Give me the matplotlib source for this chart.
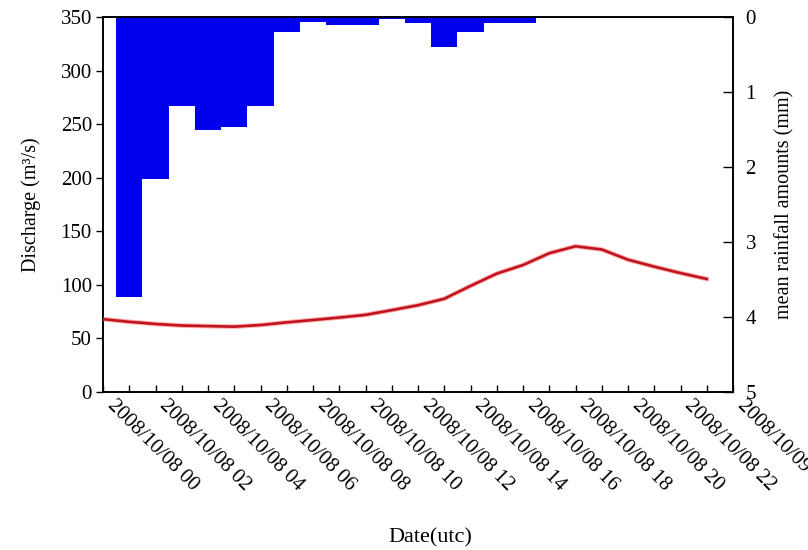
import matplotlib
matplotlib.use("Agg")
import matplotlib.pyplot as plt

plt.rcParams['font.family'] = ['Liberation Serif', 'DejaVu Serif']

# Hourly river discharge (m3/s), hours since 2008/10/08 00 UTC
q_hours = list(range(0, 24))
discharge = [68, 65.5, 63.5, 62, 61.5, 61, 62.5, 65, 67.2, 69.5, 72, 76.4,
             81, 87, 99, 110.5, 118.5, 129.5, 136, 133, 123.5, 117, 111, 105.5]

# Hourly mean rainfall amounts (mm)
rain_hours = list(range(1, 17))
rainfall = [3.73, 2.16, 1.19, 1.50, 1.47, 1.19, 0.20, 0.06,
            0.11, 0.11, 0.03, 0.08, 0.40, 0.20, 0.08, 0.08]

# Date tick labels every two hours
tick_hours = list(range(0, 25, 2))
tick_labels = ['2008/10/08 00', '2008/10/08 02', '2008/10/08 04', '2008/10/08 06',
               '2008/10/08 08', '2008/10/08 10', '2008/10/08 12', '2008/10/08 14',
               '2008/10/08 16', '2008/10/08 18', '2008/10/08 20', '2008/10/08 22',
               '2008/10/09 00']
minor_hours = list(range(1, 24, 2))

fig = plt.figure(figsize=(8.08, 5.5), dpi=100)
ax = fig.add_axes([103 / 808, 1 - 392 / 550, 630 / 808, 375 / 550])
ax2 = ax.twinx()

# Rainfall bars hanging from the top (inverted right axis)
ax2.bar(rain_hours, rainfall, width=1.0, color='#0000ee', edgecolor='none', zorder=2)
ax2.set_ylim(5, 0)
ax2.set_yticks([0, 1, 2, 3, 4, 5])
ax2.tick_params(axis='y', direction='in', length=7, width=1, labelsize=15, pad=9)
ax2.set_ylabel('mean rainfall amounts (mm)', fontsize=14.5, rotation=90)
ax2.yaxis.set_label_coords(1.066, 0.5)

# Discharge line
ax.plot(q_hours, discharge, color='#ff5a5a', lw=3.4, alpha=0.45, zorder=3)
ax.plot(q_hours, discharge, color='#c0141e', lw=1.9, zorder=4)
ax.set_zorder(ax2.get_zorder() + 1)
ax.patch.set_visible(False)

ax.set_xlim(0, 24)
ax.set_ylim(0, 350)
ax.set_yticks(range(0, 351, 50))
ax.tick_params(axis='y', direction='out', length=5, width=1, labelsize=15, pad=3)
ax.set_xticks(tick_hours)
ax.set_xticklabels(tick_labels, rotation=-45, ha='left', va='top',
                   rotation_mode='default', fontsize=15)
ax.set_xticks(minor_hours, minor=True)
ax.tick_params(axis='x', which='both', direction='in', length=5, width=1, pad=3)

ax.set_ylabel('Discharge (m³/s)', fontsize=14.5)
ax.yaxis.set_label_coords(-0.098, 0.5)
ax.set_xlabel('Date(utc)', fontsize=16)
ax.xaxis.set_label_coords(0.52, -0.362)

for a in (ax, ax2):
    for s in a.spines.values():
        s.set_linewidth(1.2)
        s.set_color('black')

fig.savefig('out.png', dpi=100, facecolor='white')
